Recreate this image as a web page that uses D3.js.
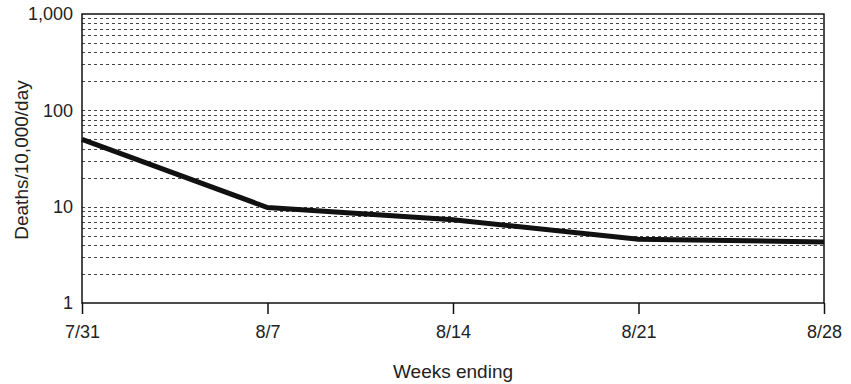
<!DOCTYPE html>
<html>
<head>
<meta charset="utf-8">
<script src="https://cdn.jsdelivr.net/npm/d3@7"></script>
<style>
  html, body { margin: 0; padding: 0; background: #fff; }
  svg { display: block; }
  text { font-family: "Liberation Sans", Arial, Helvetica, sans-serif; fill: #222; }
</style>
</head>
<body>
<svg id="chart" width="851" height="384"></svg>
<script>
// Weekly mortality rate (log scale)
const weeks = ["7/31", "8/7", "8/14", "8/21", "8/28"];
const deathRate = [50, 9.8, 7.3, 4.6, 4.3];
const yTickValues = [1, 10, 100, 1000];
const yTickLabels = ["1", "10", "100", "1,000"];

const W = 851, H = 384;
const m = { left: 82, right: 27, top: 14, bottom: 81 };
const iw = W - m.left - m.right, ih = H - m.top - m.bottom;

const svg = d3.select("#chart");
const g = svg.append("g").attr("transform", `translate(${m.left},${m.top})`);

const x = d3.scalePoint().domain(weeks).range([0, iw]);
const y = d3.scaleLog().domain([1, 1000]).range([ih, 0]);

// Minor dashed gridlines at 2..10 of each decade
const gridVals = [];
for (let d = 1; d < 1000; d *= 10) {
  for (let k = 2; k <= 10; k++) {
    const v = k * d;
    if (v < 1000) gridVals.push(v);
  }
}
g.append("g").selectAll("line").data(gridVals).join("line")
  .attr("x1", 0).attr("x2", iw)
  .attr("y1", d => Math.round(y(d)) + 0.5).attr("y2", d => Math.round(y(d)) + 0.5)
  .attr("stroke", "#444").attr("stroke-width", 1)
  .attr("stroke-dasharray", "3,3");

// Plot frame
g.append("rect").attr("x", 0).attr("y", 0).attr("width", iw).attr("height", ih)
  .attr("fill", "none").attr("stroke", "#111").attr("stroke-width", 1.5);

// X axis with downward ticks
const xAxis = g.append("g").attr("transform", `translate(0,${ih})`)
  .call(d3.axisBottom(x).tickSize(11).tickPadding(11));
xAxis.select(".domain").remove();
xAxis.selectAll(".tick line").attr("stroke", "#111").attr("stroke-width", 1.5);
xAxis.selectAll(".tick text").attr("font-size", 18).attr("fill", "#222");

// Y axis labels only
const yAxis = g.append("g")
  .call(d3.axisLeft(y).tickValues(yTickValues)
    .tickFormat((d, i) => yTickLabels[i]).tickSize(0).tickPadding(9));
yAxis.select(".domain").remove();
yAxis.selectAll(".tick text").attr("font-size", 18).attr("fill", "#222");

// Data line
const line = d3.line().x((d, i) => x(weeks[i])).y(d => y(d));
g.append("path").datum(deathRate)
  .attr("d", line).attr("fill", "none")
  .attr("stroke", "#111").attr("stroke-width", 5)
  .attr("stroke-linejoin", "miter");

// Axis titles
svg.append("text")
  .attr("transform", `translate(28,160) rotate(-90)`)
  .attr("text-anchor", "middle").attr("font-size", 19)
  .text("Deaths/10,000/day");
svg.append("text")
  .attr("x", m.left + iw / 2).attr("y", 378)
  .attr("text-anchor", "middle").attr("font-size", 19)
  .text("Weeks ending");
</script>
</body>
</html>
